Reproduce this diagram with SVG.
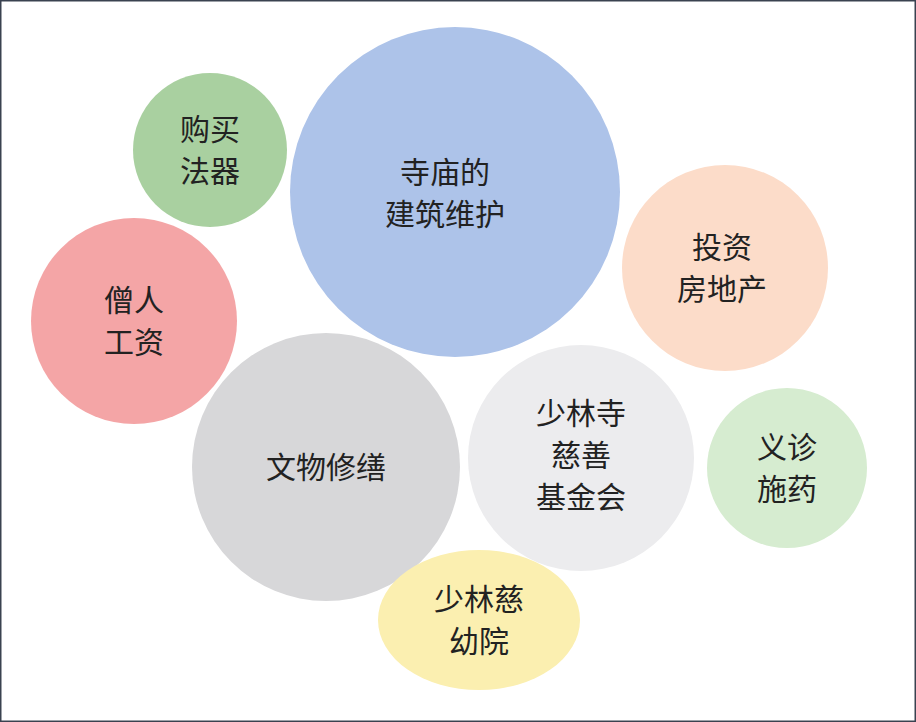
<svg xmlns="http://www.w3.org/2000/svg" width="916" height="722" viewBox="0 0 916 722">
<style>
text{font-family:"Noto Sans CJK SC","Noto Sans",sans-serif;font-size:30px;fill:#222;text-anchor:middle}
</style>
<rect x="0.5" y="0.5" width="915" height="721" fill="#fff" stroke="#3a4250" stroke-width="2"/>
<g id="fashi"><circle cx="210" cy="150" r="77" fill="#a9d0a0"/><text x="210" y="140">购买</text><text x="210" y="182">法器</text></g>
<g id="jianzhu"><circle cx="455" cy="192" r="165" fill="#adc3e9"/><text x="445" y="183">寺庙的</text><text x="445" y="225">建筑维护</text></g>
<g id="fangdichan"><circle cx="725" cy="268" r="103" fill="#fcdcc9"/><text x="722" y="258">投资</text><text x="722" y="300">房地产</text></g>
<g id="gongzi"><circle cx="134" cy="321" r="103" fill="#f4a5a6"/><text x="134" y="311">僧人</text><text x="134" y="353">工资</text></g>
<g id="wenwu"><circle cx="326" cy="467" r="134" fill="#d7d7d9"/><text x="326" y="478">文物修缮</text></g>
<g id="jijinhui"><circle cx="581" cy="458" r="113" fill="#ececee"/><text x="581" y="424">少林寺</text><text x="581" y="466">慈善</text><text x="581" y="508">基金会</text></g>
<g id="yizhen"><circle cx="787" cy="468" r="80" fill="#d6ecd0"/><text x="787" y="458">义诊</text><text x="787" y="500">施药</text></g>
<g id="ciyouyuan"><ellipse cx="479" cy="620" rx="101" ry="70" fill="#fbefb0"/><text x="479" y="610">少林慈</text><text x="479" y="652">幼院</text></g>
<g id="connectors"/>
</svg>
